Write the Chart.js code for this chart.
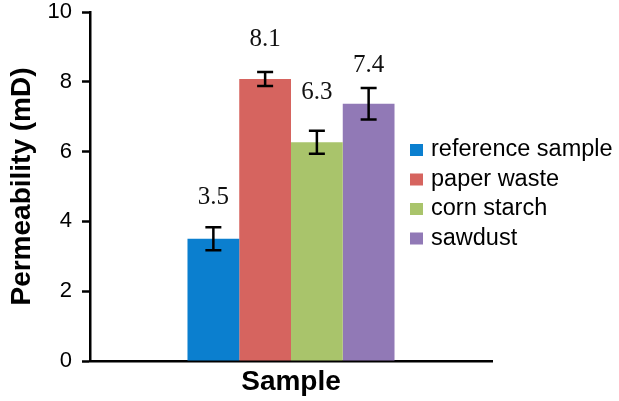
<!DOCTYPE html>
<html lang="en">
<head>
    <meta charset="UTF-8">
    <title>Permeability</title>
    <script src="https://cdn.jsdelivr.net/npm/chart.js"></script>
    <style>
        html, body { margin: 0; padding: 0; background: #fff; }
        .chart-wrapper { width: 619px; height: 401px; }
    </style>
</head>
<body>
    <div class="chart-wrapper"><canvas id="chart" width="619" height="401"></canvas></div>

    <script>
        // data
        const categories = ["Sample"];
        const seriesNames = ["reference sample", "paper waste", "corn starch", "sawdust"];
        const seriesValues = [3.5, 8.08, 6.27, 7.37];
        const seriesErrors = [0.33, 0.2, 0.33, 0.45];
        const valueLabels = ["3.5", "8.1", "6.3", "7.4"];
        const labelLevels = [4.70, 9.20, 7.69, 8.48];   // where each label sits, in mD
        const seriesColors = ["#0b7fcf", "#d6645f", "#a9c46b", "#9179b6"];
        const yTicks = [0, 2, 4, 6, 8, 10];

        // error bars + value labels
        const errorBars = {
            id: 'errorBars',
            afterDatasetsDraw(chart) {
                const ctx = chart.ctx;
                const y = chart.scales.y;
                ctx.save();
                chart.data.datasets.forEach((ds, i) => {
                    const bar = chart.getDatasetMeta(i).data[0];
                    const v = ds.data[0];
                    const e = seriesErrors[i];
                    const top = y.getPixelForValue(v + e);
                    const bot = y.getPixelForValue(v - e);
                    ctx.strokeStyle = '#000';
                    ctx.lineWidth = 2.5;
                    ctx.beginPath();
                    ctx.moveTo(bar.x, top); ctx.lineTo(bar.x, bot);
                    ctx.moveTo(bar.x - 8, top); ctx.lineTo(bar.x + 8, top);
                    ctx.moveTo(bar.x - 8, bot); ctx.lineTo(bar.x + 8, bot);
                    ctx.stroke();

                    ctx.fillStyle = '#111';
                    ctx.font = '25px "Liberation Serif", "Times New Roman", serif';
                    ctx.textAlign = 'center';
                    ctx.textBaseline = 'middle';
                    ctx.fillText(valueLabels[i], bar.x, y.getPixelForValue(labelLevels[i]));
                });
                ctx.restore();
            }
        };

        // legend on the right, drawn over the chart area
        const sideLegend = {
            id: 'sideLegend',
            afterDraw(chart) {
                const ctx = chart.ctx;
                ctx.save();
                ctx.font = '23.5px "Liberation Sans", Arial, sans-serif';
                ctx.textAlign = 'left';
                ctx.textBaseline = 'middle';
                chart.data.datasets.forEach((ds, i) => {
                    const cy = 150 + i * 29.5;
                    ctx.fillStyle = ds.backgroundColor;
                    ctx.fillRect(410, cy - 6, 13, 12);
                    ctx.fillStyle = '#000';
                    ctx.fillText(ds.label, 431, cy);
                });
                ctx.restore();
            }
        };

        new Chart(document.getElementById('chart'), {
            type: 'bar',
            data: {
                labels: categories,
                datasets: seriesNames.map((name, i) => ({
                    label: name,
                    data: [seriesValues[i]],
                    backgroundColor: seriesColors[i],
                    borderWidth: 0
                }))
            },
            options: {
                responsive: false,
                animation: false,
                layout: { padding: { left: 0, right: 127, top: 12, bottom: 0 } },
                categoryPercentage: 0.515,
                barPercentage: 1,
                plugins: {
                    legend: { display: false },
                    tooltip: { enabled: false }
                },
                scales: {
                    x: {
                        grid: { display: false },
                        border: { color: '#000', width: 2.5 },
                        ticks: { display: false },
                        title: {
                            display: true,
                            text: 'Sample',
                            color: '#000',
                            font: { family: '"Liberation Sans", Arial, sans-serif', size: 28, weight: 'bold' },
                            padding: { top: 0, bottom: 2 }
                        },
                        afterFit(scale) { scale.height = 40; }
                    },
                    y: {
                        min: 0,
                        max: 10,
                        afterBuildTicks(scale) { scale.ticks = yTicks.map(v => ({ value: v })); },
                        grid: {
                            drawOnChartArea: false,
                            drawTicks: true,
                            tickLength: 8,
                            tickWidth: 2.5,
                            tickColor: '#000'
                        },
                        border: { color: '#000', width: 2.5 },
                        ticks: {
                            color: '#000',
                            padding: 10,
                            font: { family: '"Liberation Sans", Arial, sans-serif', size: 22 }
                        },
                        title: {
                            display: true,
                            text: 'Permeability (mD)',
                            color: '#000',
                            font: { family: '"Liberation Sans", Arial, sans-serif', size: 28, weight: 'bold' },
                            padding: { top: 5, bottom: 0 }
                        },
                        afterFit(scale) {
                            scale.width = 90;
                            scale.paddingTop = 0;
                            scale.paddingBottom = 0;
                        }
                    }
                }
            },
            plugins: [errorBars, sideLegend]
        });
    </script>
</body>
</html>
